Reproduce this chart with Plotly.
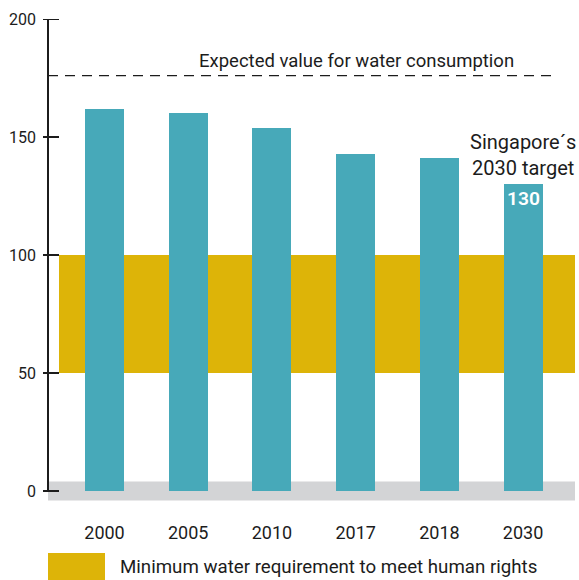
import plotly.graph_objects as go

# Per-capita water consumption, litres per day
years = ["2000", "2005", "2010", "2017", "2018", "2030"]
consumption = [162, 160, 154, 143, 141, 130]
labelled_years = ["2030"]

y_ticks = [0, 50, 100, 150, 200]
expected_value = 176
human_rights_band = [50, 100]
baseline_band = [-4, 4]

BAR = "#47a9b9"
GOLD = "#ddb408"
GREY = "#d3d4d6"
INK = "#1c1c1c"
FONT = "Roboto"

W, H = 579, 580
L, R, T, B = 48, 4, 19, 79
plot_w = W - L - R
plot_h = H - T - B

def px_x(p):
    return p / plot_w

def px_y(pix):
    # figure pixel row -> paper y
    return (H - B - pix) / plot_h

bar_text = [str(v) if y in labelled_years else "" for y, v in zip(years, consumption)]

fig = go.Figure()
fig.add_trace(go.Bar(
    x=years, y=consumption, width=0.466,
    marker=dict(color=BAR, line=dict(width=0)),
    text=bar_text, textposition="inside", insidetextanchor="end",
    textfont=dict(family=FONT, size=20, color="white", weight=600),
    textangle=0, showlegend=False, hoverinfo="x+y",
))

shapes = []
# baseline strip and human-rights band behind the bars
shapes.append(dict(type="rect", xref="paper", yref="y", x0=0, x1=1,
                   y0=baseline_band[0], y1=baseline_band[1],
                   fillcolor=GREY, line=dict(width=0), layer="below"))
shapes.append(dict(type="rect", xref="paper", yref="y", x0=px_x(11), x1=1,
                   y0=human_rights_band[0], y1=human_rights_band[1],
                   fillcolor=GOLD, line=dict(width=0), layer="below"))
# expected-value reference line
shapes.append(dict(type="line", xref="paper", yref="y", x0=0, x1=px_x(507),
                   y0=expected_value, y1=expected_value,
                   line=dict(color=INK, width=1.3, dash="10px,7px")))
# y axis line and crossing ticks
shapes.append(dict(type="line", xref="paper", yref="y", x0=0, x1=0,
                   y0=y_ticks[0], y1=y_ticks[-1], line=dict(color=INK, width=2)))
for t in y_ticks:
    shapes.append(dict(type="line", xref="paper", yref="y", x0=px_x(-5), x1=px_x(11),
                       y0=t, y1=t, line=dict(color=INK, width=2)))
# legend swatch
shapes.append(dict(type="rect", xref="paper", yref="paper",
                   x0=0, x1=px_x(57), y0=px_y(553), y1=px_y(585),
                   fillcolor=GOLD, line=dict(width=0)))

target_idx = years.index("2030")
annotations = [
    dict(text="Expected value for water consumption", xref="paper", yref="y",
         x=px_x(356 - L), y=expected_value, xanchor="center", yanchor="bottom", yshift=2,
         showarrow=False, font=dict(family=FONT, size=18.5, color=INK)),
    dict(text="Singapore´s<br>2030 target", xref="x", yref="y",
         x=target_idx, y=consumption[target_idx], xanchor="center", yanchor="bottom", yshift=2,
         showarrow=False, align="center", font=dict(family=FONT, size=20, color=INK)),
    dict(text="Minimum water requirement to meet human rights", xref="paper", yref="paper",
         x=px_x(118 - L), y=px_y(567), xanchor="left", yanchor="middle",
         showarrow=False, font=dict(family=FONT, size=18.7, color=INK)),
]

fig.update_layout(
    width=W, height=H,
    margin=dict(l=L, r=R, t=T, b=B, pad=0),
    paper_bgcolor="white", plot_bgcolor="white",
    font=dict(family=FONT, color=INK),
    shapes=shapes, annotations=annotations,
    bargap=0,
    xaxis=dict(type="category", range=[-0.675, 5.62], showgrid=False, zeroline=False,
               showline=False, ticks="", ticklabelstandoff=19,
               tickfont=dict(family=FONT, size=18, color=INK)),
    yaxis=dict(range=[-4.24, 200], tickvals=y_ticks, showgrid=False, zeroline=False,
               showline=False, ticks="", ticklabelstandoff=11,
               tickfont=dict(family=FONT, size=16, color=INK)),
)

fig.write_html("out.html")
